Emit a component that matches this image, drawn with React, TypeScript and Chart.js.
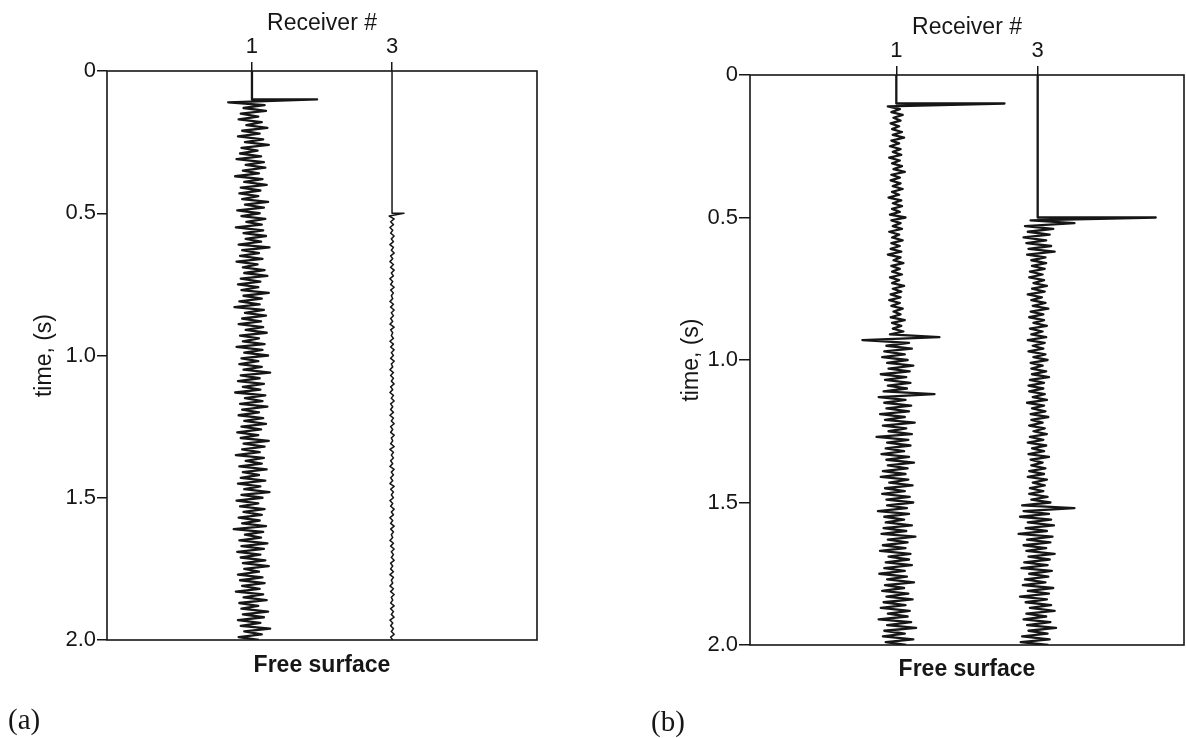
import React, { useEffect, useRef } from 'react';
import { Chart, registerables } from 'chart.js';

Chart.register(...registerables);

// ---------------- data ----------------
const SAMPLE_INTERVAL = 0.01; // s
const receivers = [1, 3];
const xTickValues = [1, 3];
const yTickValues = [0, 0.5, 1.0, 1.5, 2.0];
const yTickLabels = ['0', '0.5', '1.0', '1.5', '2.0'];
const xTitle = 'Receiver #';
const yTitle = 'time, (s)';
const bottomTitle = 'Free surface';
const panelLabels = ['(a)', '(b)'];

// first-arrival times (s) of each trace
const onsetA1 = 0.1;
const onsetA3 = 0.5;
const onsetB1 = 0.1;
const onsetB3 = 0.5;

// amplitudes, in hundredths of a receiver spacing, one sample every 0.01 s from onset
const ampA1 = [
  93, -34, 18, -12, 20, -16, 9, -19, 14, -8,
  22, -14, 11, -20, 16, -10, 24, -15, 8, -17,
  13, -22, 17, -9, 19, -13, 10, -24, 15, -11,
  21, -16, 12, -18, 9, -14, 23, -10, 17, -21,
  11, -15, 19, -8, 14, -23, 16, -12, 20, -9,
  13, -19, 25, -14, 10, -17, 15, -22, 8, -13,
  18, -11, 22, -16, 12, -20, 9, -15, 24, -12,
  14, -18, 11, -25, 17, -10, 20, -14, 13, -19,
  16, -9, 21, -17, 10, -13, 18, -22, 15, -11,
  23, -15, 9, -18, 14, -12, 26, -16, 11, -20,
  17, -13, 12, -24, 19, -10, 15, -17, 22, -14,
  10, -19, 16, -11, 20, -15, 13, -21, 9, -16,
  24, -12, 18, -14, 11, -23, 17, -9, 14, -18,
  21, -13, 10, -16, 19, -20, 12, -11, 25, -15,
  15, -22, 9, -17, 18, -12, 14, -19, 11, -14,
  20, -26, 16, -10, 13, -18, 22, -15, 17, -21,
  12, -16, 19, -13, 24, -11, 10, -20, 15, -17,
  18, -14, 11, -23, 16, -12, 21, -18, 9, -15,
  23, -13, 17, -20, 12, -16, 26, -11, 14, -19,
  10,
];

const ampA3 = [
  17, -4, 3, -2, 2, -3, 1, -2, 3, -1,
  2, -3, 2, -1, 3, -2, 1, -3, 2, -2,
  3, -1, 2, -3, 1, -2, 3, -2, 2, -1,
  1, -3, 2, -2, 3, -1, 2, -2, 1, -3,
  3, -2, 1, -1, 2, -3, 2, -2, 3, -1,
  2, -2, 3, -1, 1, -3, 2, -2, 2, -1,
  3, -2, 1, -3, 2, -1, 3, -2, 1, -2,
  2, -3, 2, -1, 3, -2, 1, -2, 3, -1,
  1, -2, 3, -3, 2, -1, 2, -2, 1, -3,
  3, -1, 2, -2, 1, -3, 3, -2, 2, -1,
  2, -3, 1, -2, 3, -1, 2, -3, 1, -2,
  3, -2, 2, -1, 1, -3, 2, -2, 3, -1,
  2, -1, 3, -2, 1, -2, 2, -3, 2, -1,
  1, -3, 2, -2, 3, -1, 1, -2, 3, -2,
  2, -1, 3, -3, 1, -2, 2, -1, 3, -2,
  1,
];

const ampB1 = [
  153, -12, 5, -7, 9, -4, 6, -8, 4, -6,
  8, -5, 11, -7, 4, -9, 6, -5, 7, -10,
  5, -6, 8, -4, 12, -7, 5, -8, 6, -5,
  9, -6, 4, -11, 7, -5, 8, -6, 5, -9,
  13, -7, 6, -5, 8, -10, 4, -6, 9, -7,
  5, -8, 7, -12, 6, -4, 10, -7, 5, -6,
  8, -9, 4, -6, 11, -5, 7, -8, 6, -10,
  5, -7, 9, -4, 6, -8, 12, -6, 7, -5,
  10, -9, 61, -48, 18, -14, 22, -17, 12, -20,
  16, -13, 24, -11, 19, -22, 14, -16, 20, -12,
  15, -18, 54, -25, 13, -17, 21, -14, 18, -23,
  12, -16, 26, -19, 14, -11, 22, -28, 17, -13,
  20, -15, 11, -21, 18, -14, 25, -12, 16, -19,
  13, -22, 17, -10, 23, -16, 12, -20, 19, -14,
  24, -13, 15, -26, 18, -17, 11, -15, 22, -18,
  14, -21, 27, -12, 16, -19, 13, -23, 20, -11,
  18, -15, 22, -17, 12, -24, 15, -13, 25, -16,
  11, -20, 17, -14, 23, -18, 13, -22, 19, -12,
  16, -25, 21, -13, 28, -17, 12, -19, 24, -15,
  14,
];

const ampB3 = [
  167, -10, 52, -18, 22, -14, 17, -20, 12, -16,
  19, -13, 24, -15, 11, -9, 12, -8, 10, -11,
  7, -12, 9, -6, 13, -8, 10, -14, 6, -9,
  11, -7, 15, -10, 8, -12, 9, -6, 13, -11,
  7, -9, 12, -14, 10, -7, 8, -13, 11, -6,
  14, -10, 7, -9, 12, -8, 16, -11, 9, -13,
  8, -12, 10, -7, 13, -15, 9, -8, 11, -10,
  15, -9, 7, -12, 10, -6, 13, -11, 8, -14,
  12, -8, 9, -13, 16, -10, 7, -9, 11, -12,
  9, -14, 13, -7, 10, -11, 8, -12, 14, -9,
  18, -22, 52, -20, 16, -25, 19, -14, 23, -17,
  13, -27, 21, -15, 18, -20, 12, -16, 24, -13,
  17, -19, 14, -23, 20, -12, 15, -18, 11, -21,
  22, -14, 16, -25, 13, -17, 19, -11, 24, -16,
  12, -20, 18, -15, 26, -13, 14, -22, 17, -24,
  15,
];

// ---------------- styling / layout ----------------
const SANS = "'Liberation Sans', Arial, Helvetica, sans-serif";
const INK = '#161616';
const X_MIN = -1.07;
const X_MAX = 5.07;

type Trace = { receiver: number; onset: number; amps: number[]; width: number };
type Geometry = {
  left: number; width: number; height: number;
  axisWidth: number; axisHeight: number; bottomHeight: number; padRight: number;
  xTitlePad: number; yTitlePad: number; bottomTitlePad: number; yTickLength: number;
};

function tracePoints(tr: Trace) {
  const pts = [
    { x: tr.receiver, y: 0 },
    { x: tr.receiver, y: tr.onset },
  ];
  tr.amps.forEach((a, i) => {
    pts.push({ x: tr.receiver + a / 100, y: tr.onset + i * SAMPLE_INTERVAL });
  });
  return pts;
}

const framePlugin = {
  id: 'frame',
  beforeDatasetsDraw(chart: any) {
    const { ctx, chartArea: a } = chart;
    ctx.save();
    ctx.strokeStyle = INK;
    ctx.lineWidth = 1.6;
    ctx.strokeRect(a.left, a.top, a.right - a.left, a.bottom - a.top);
    ctx.restore();
  },
};

function Panel({ traces, g }: { traces: Trace[]; g: Geometry }) {
  const ref = useRef<HTMLCanvasElement | null>(null);
  useEffect(() => {
    if (!ref.current) return;
    const chart = new Chart(ref.current, {
      type: 'scatter',
      data: {
        datasets: traces.map((tr) => ({
          data: tracePoints(tr),
          showLine: true,
          borderColor: INK,
          backgroundColor: INK,
          borderWidth: tr.width,
          borderJoinStyle: 'round',
          pointRadius: 0,
          fill: false,
          tension: 0,
        })),
      },
      options: {
        animation: false,
        responsive: false,
        maintainAspectRatio: false,
        events: [],
        layout: { padding: { left: 0, top: 0, right: g.padRight, bottom: 0 } },
        plugins: {
          legend: { display: false },
          tooltip: { enabled: false },
        },
        scales: {
          x: {
            type: 'linear',
            position: 'top',
            min: X_MIN,
            max: X_MAX,
            afterBuildTicks: (s: any) => {
              s.ticks = xTickValues.map((v) => ({ value: v }));
            },
            afterFit: (s: any) => {
              s.height = g.axisHeight;
            },
            ticks: {
              color: INK,
              font: { family: SANS, size: 22 },
              padding: 2,
              maxRotation: 0,
              callback: (v: any) => String(v),
            },
            grid: { drawOnChartArea: false, tickLength: 9, color: INK, lineWidth: 1.5 },
            border: { display: false },
            title: {
              display: true,
              text: xTitle,
              color: INK,
              font: { family: SANS, size: 23 },
              padding: { top: g.xTitlePad, bottom: 0 },
            },
          },
          x2: {
            type: 'linear',
            position: 'bottom',
            min: X_MIN,
            max: X_MAX,
            afterFit: (s: any) => {
              s.height = g.bottomHeight;
            },
            ticks: { display: false },
            grid: { display: false },
            border: { display: false },
            title: {
              display: true,
              text: bottomTitle,
              color: INK,
              font: { family: SANS, size: 23, weight: 'bold' },
              padding: { top: 0, bottom: g.bottomTitlePad },
            },
          },
          y: {
            type: 'linear',
            reverse: true,
            min: 0,
            max: 2,
            afterBuildTicks: (s: any) => {
              s.ticks = yTickValues.map((v) => ({ value: v }));
            },
            afterFit: (s: any) => {
              s.width = g.axisWidth;
            },
            ticks: {
              color: INK,
              font: { family: SANS, size: 22 },
              padding: 1,
              callback: (v: any) => {
                const i = yTickValues.indexOf(Number(v));
                return i >= 0 ? yTickLabels[i] : '';
              },
            },
            grid: { drawOnChartArea: false, tickLength: g.yTickLength, color: INK, lineWidth: 1.5 },
            border: { display: false },
            title: {
              display: true,
              text: yTitle,
              color: INK,
              font: { family: SANS, size: 23 },
              padding: { top: g.yTitlePad, bottom: 0 },
            },
          },
        },
      } as any,
      plugins: [framePlugin],
    });
    return () => chart.destroy();
  }, []);
  return (
    <canvas
      ref={ref}
      width={g.width}
      height={g.height}
      style={{ position: 'absolute', left: g.left, top: 0, width: g.width, height: g.height }}
    />
  );
}

const tracesA: Trace[] = [
  { receiver: receivers[0], onset: onsetA1, amps: ampA1, width: 2.3 },
  { receiver: receivers[1], onset: onsetA3, amps: ampA3, width: 1.5 },
];
const tracesB: Trace[] = [
  { receiver: receivers[0], onset: onsetB1, amps: ampB1, width: 2.3 },
  { receiver: receivers[1], onset: onsetB3, amps: ampB3, width: 2.3 },
];

const geoA: Geometry = {
  left: 0, width: 560, height: 738,
  axisWidth: 107, axisHeight: 71, bottomHeight: 98, padRight: 23,
  xTitlePad: 10, yTitlePad: 31, bottomTitlePad: 59, yTickLength: 10,
};
const geoB: Geometry = {
  left: 640, width: 546, height: 738,
  axisWidth: 110, axisHeight: 75, bottomHeight: 93, padRight: 2,
  xTitlePad: 14, yTitlePad: 38, bottomTitlePad: 55, yTickLength: 11,
};

export default function App() {
  const labelStyle: React.CSSProperties = {
    position: 'absolute',
    fontFamily: "'Liberation Serif', 'DejaVu Serif', serif",
    fontSize: 29,
    lineHeight: '30px',
    color: INK,
  };
  return (
    <div style={{ position: 'absolute', left: 0, top: 0, width: 1186, height: 738, background: '#fff', overflow: 'hidden' }}>
      <Panel traces={tracesA} g={geoA} />
      <Panel traces={tracesB} g={geoB} />
      <div style={{ ...labelStyle, left: 8, top: 704 }}>{panelLabels[0]}</div>
      <div style={{ ...labelStyle, left: 651, top: 706 }}>{panelLabels[1]}</div>
    </div>
  );
}
